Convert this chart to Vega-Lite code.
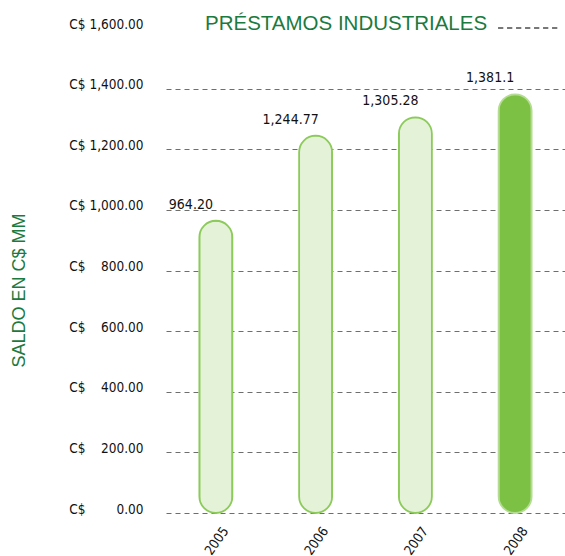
{
  "$schema": "https://vega.github.io/schema/vega-lite/v6.json",
  "width": 399,
  "height": 485,
  "autosize": {"type": "none"},
  "padding": {"left": 166, "top": 28, "right": 0, "bottom": 43},
  "background": "white",
  "title": {
    "text": "PRÉSTAMOS INDUSTRIALES",
    "anchor": "start",
    "frame": "group",
    "dx": 39,
    "dy": 33,
    "offset": 0,
    "baseline": "alphabetic",
    "font": "Liberation Sans",
    "fontSize": 20.5,
    "fontWeight": "normal",
    "color": "#1b7a3e"
  },
  "data": {
    "values": [
      {"year": "2005", "value": 964.20, "label": "964.20"},
      {"year": "2006", "value": 1244.77, "label": "1,244.77"},
      {"year": "2007", "value": 1305.28, "label": "1,305.28"},
      {"year": "2008", "value": 1381.1, "label": "1,381.1"}
    ]
  },
  "encoding": {
    "x": {
      "field": "year",
      "type": "nominal",
      "scale": {"paddingInner": 0, "paddingOuter": 0},
      "axis": {
        "title": null,
        "labelAngle": -55,
        "labelFont": "DejaVu Sans Condensed, sans-serif",
        "labelFontSize": 13.5,
        "labelColor": "#111111",
        "labelPadding": 15,
        "labelOffset": 10,
        "ticks": false,
        "tickSize": 0,
        "domain": false,
        "grid": false
      }
    },
    "y": {
      "field": "value",
      "type": "quantitative",
      "scale": {"domain": [0, 1600]},
      "axis": {
        "title": "SALDO EN C$ MM",
        "titleFont": "Liberation Sans",
        "titleFontSize": 18,
        "titleFontWeight": "normal",
        "titleColor": "#1b7a3e",
        "titleX": -147,
        "titleY": 262,
        "titleAlign": "center",
        "titleBaseline": "middle",
        "titleAngle": -90,
        "values": [0, 200, 400, 600, 800, 1000, 1200, 1400, 1600],
        "labelExpr": "'C$ ' + (datum.value >= 1000 ? '' : datum.value > 0 ? '\u2007\u2008' : '\u2007\u2007\u2007\u2008') + format(datum.value, ',.2f')",
        "labelFont": "DejaVu Sans Condensed, sans-serif",
        "labelFontSize": 13.5,
        "labelColor": "#111111",
        "labelBaseline": "alphabetic",
        "labelOffset": 0,
        "labelPadding": 23,
        "ticks": false,
        "tickSize": 0,
        "domain": false,
        "grid": true,
        "gridColor": "#6e6e6e",
        "gridDash": [5, 4],
        "gridWidth": 1,
        "gridOpacity": {"condition": {"test": "datum.value == 1600", "value": 0}, "value": 1}
      }
    }
  },
  "layer": [
    {
      "mark": {"type": "rule", "color": "#6e6e6e", "strokeDash": [5, 4], "strokeWidth": 1},
      "encoding": {
        "x": {"datum": "2008", "bandPosition": 0.33},
        "x2": {"datum": "2008", "bandPosition": 0.95},
        "y": {"datum": 1600}
      }
    },
    {
      "mark": {"type": "bar", "width": 33, "cornerRadius": 16.5, "strokeWidth": 1.8},
      "encoding": {
        "fill": {
          "field": "year",
          "type": "nominal",
          "scale": {"domain": ["2005", "2006", "2007", "2008"], "range": ["#e4f2d8", "#e4f2d8", "#e4f2d8", "#7cc143"]},
          "legend": null
        },
        "stroke": {
          "field": "year",
          "type": "nominal",
          "scale": {"domain": ["2005", "2006", "2007", "2008"], "range": ["#8ccb5a", "#8ccb5a", "#8ccb5a", "#b5dc93"]},
          "legend": null
        }
      }
    },
    {
      "mark": {
        "type": "text",
        "dx": -25,
        "dy": -12,
        "baseline": "alphabetic",
        "align": "center",
        "font": "DejaVu Sans Condensed, sans-serif",
        "fontSize": 14,
        "color": "#111111"
      },
      "encoding": {"text": {"field": "label"}}
    }
  ],
  "config": {"view": {"stroke": null}}
}
